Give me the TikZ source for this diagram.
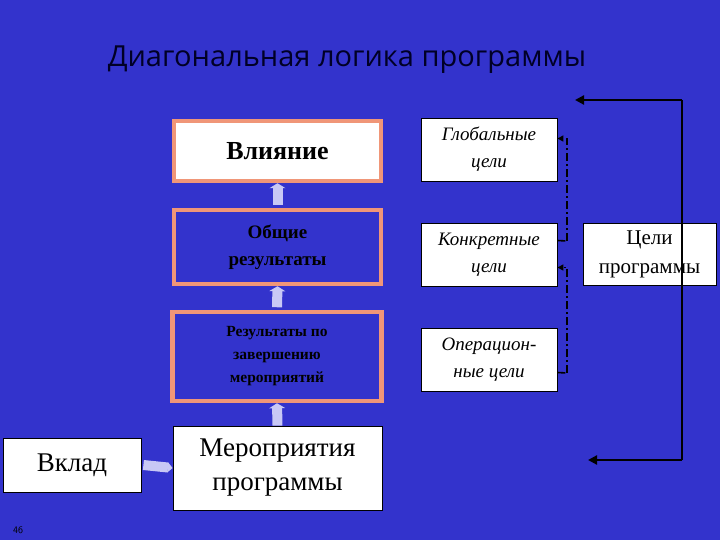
\documentclass[tikz,border=0pt]{standalone}
\usepackage{fontspec}
\setmainfont{Liberation Serif}
\newfontfamily\titlefont{Open Sans}
\usetikzlibrary{arrows.meta,calc}
\definecolor{bg}{RGB}{51,51,204}
\definecolor{salmon}{RGB}{240,150,120}
\definecolor{lav}{RGB}{200,200,245}
\tikzset{
  wbox/.style={draw=black,fill=white,line width=0.8pt,align=center,inner sep=0pt},
  obox/.style={draw=salmon,line width=4.5pt,align=center,inner sep=0pt,font=\bfseries},
  ubar/.style={draw=lav,line width=10pt,-{Triangle[width=16pt,length=5pt]}},
  solidarr/.style={line width=2.2pt,-{Triangle[width=9pt,length=9pt]}},
  dd/.style={line width=1.6pt,dash pattern=on 8pt off 3pt on 2pt off 3pt},
}
\begin{document}
\begin{tikzpicture}[x=1pt,y=-1pt]
\useasboundingbox (0,0) rectangle (720,540);
\fill[bg] (0,0) rectangle (720,540);
\node[font=\titlefont\fontsize{29}{32}\selectfont,text=black!85!blue] (title) at (347,60) {Диагональная логика программы};
% left column
\node[obox,fill=white,minimum width=207pt,minimum height=60pt,font=\bfseries\fontsize{26}{30}\selectfont] (vl) at (277.5,151) {Влияние};
\node[obox,minimum width=207pt,minimum height=74pt,font=\bfseries\fontsize{19}{27}\selectfont] (ob) at (277.5,247) {Общие\\результаты};
\node[obox,minimum width=209pt,minimum height=89pt,font=\bfseries\fontsize{15.5}{23}\selectfont] (rz) at (277,356.5) {Результаты по\\завершению\\мероприятий};
\node[wbox,minimum width=209pt,minimum height=84pt,font=\fontsize{27}{34}\selectfont] (mp) at (277.5,468) {Мероприятия\\программы};
\node[wbox,minimum width=138pt,minimum height=54pt,font=\fontsize{27}{32}\selectfont] (vk) at (72,465) {Вклад};
\draw[ubar] (ob.north) ++(0,-2.5) -- (vl.south);
\draw[ubar] (rz.north) ++(0,-2.5) -- (ob.south);
\draw[ubar] (mp.north) -- (rz.south);
\draw[ubar,-{Triangle[width=10pt,length=5pt]}] (vk.east) ++(2,0) -- (mp.west);
% goals
\node[wbox,minimum width=136pt,minimum height=63pt,font=\itshape\fontsize{19}{27}\selectfont] (gl) at (489,149.5) {Глобальные\\цели};
\node[wbox,minimum width=136pt,minimum height=63pt,font=\itshape\fontsize{19}{27}\selectfont] (kn) at (489,254.5) {Конкретные\\цели};
\node[wbox,minimum width=136pt,minimum height=63pt,font=\itshape\fontsize{19}{27}\selectfont] (op) at (489,359.5) {Операцион-\\ные цели};
\node[wbox,minimum width=133pt,minimum height=62pt,font=\fontsize{21}{29}\selectfont] (cp) at (649.5,254.5) {Цели\\программы};
% dash-dot connectors
\coordinate (d1) at (567,241);
\coordinate (d2) at (567,373);
\draw[dd] ($(kn.east)+(0,-14)$) -- (d1);
\draw[dd,-{Triangle[width=6pt,length=6pt]}] (d1) |- ($(gl.east)+(0,-11)$);
\draw[dd] ($(op.east)+(0,13)$) -- (d2);
\draw[dd,-{Triangle[width=6pt,length=6pt]}] (d2) |- ($(kn.east)+(0,13)$);
% solid loop
\coordinate (c1) at (682,100);
\coordinate (c2) at (682,460);
\draw[solidarr] (c1) -- (575,100);
\draw[line width=2.2pt] (c1) -- (c2);
\draw[solidarr] (c2) -- (588,460);
\node[font=\sffamily\fontsize{10}{12}\selectfont,text=black] (pg) at (18,530) {46};
\end{tikzpicture}
\end{document}
